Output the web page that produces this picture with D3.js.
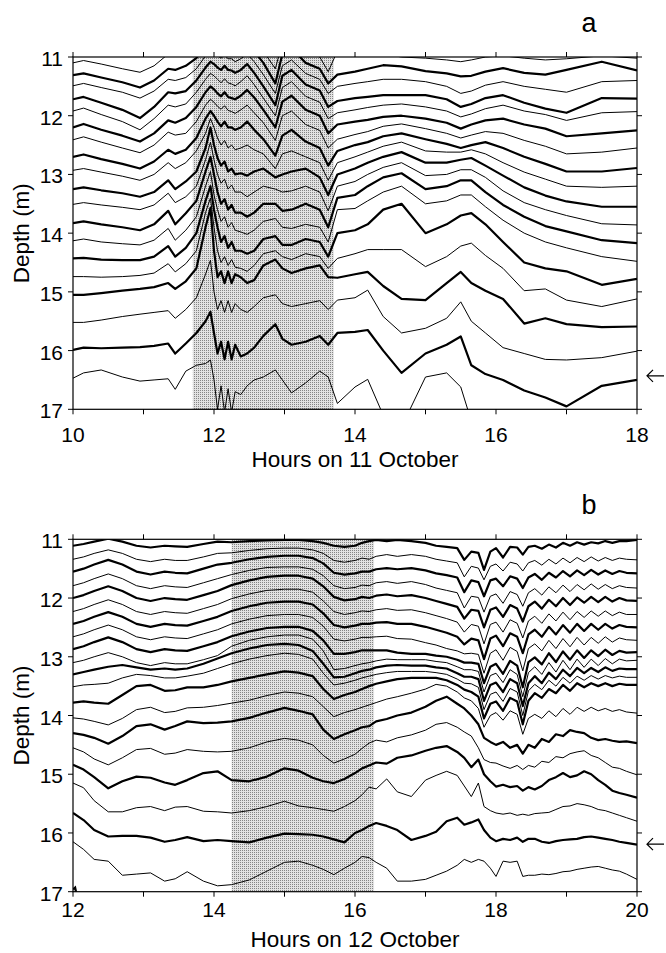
<!DOCTYPE html>
<html><head><meta charset="utf-8">
<script src="https://cdn.jsdelivr.net/npm/d3@7"></script>
<style>
html,body{margin:0;padding:0;background:#fff;}
svg{display:block;font-family:"Liberation Sans",Arial,Helvetica,sans-serif;}
</style></head><body>
<svg id="chart" width="666" height="953"></svg>
<script>
// ---------- DATA ----------
const depthTicks = [11, 12, 13, 14, 15, 16, 17];
const hourTicksA = [10, 11, 12, 13, 14, 15, 16, 17, 18];
const hourLabelsA = [10, 12, 14, 16, 18];
const hourTicksB = [12, 13, 14, 15, 16, 17, 18, 19, 20];
const hourLabelsB = [12, 14, 16, 18, 20];
const shadeA = [11.7, 13.7];
const shadeB = [14.25, 16.27];
const arrowDepthA = 16.43;
const arrowDepthB = 16.19;

const hoursA = [10.0,10.15,10.4,10.7,10.95,11.15,11.35,11.45,11.6,11.75,
  11.88,11.95,12.0,12.05,12.1,12.15,12.2,12.25,12.3,12.38,12.47,12.57,12.7,12.87,12.97,13.1,13.3,13.5,13.62,
  13.75,14.0,14.18,14.4,14.66,15.0,15.3,15.5,15.65,15.85,16.1,16.4,16.7,17.0,17.5,18.0];

const depthsA = [
 [11.10,11.06,11.12,11.20,11.26,11.15,10.95,10.98,10.95,10.88, 10.6,10.5,10.55,10.6,10.65,10.6,10.65,10.65,10.7,10.65,10.55,10.7,10.9,11.2,10.75,10.65,10.9,11.0,11.25, 10.9,10.95,10.98,10.95,11.0,11.02,11.05,11.08,11.05,11.0,10.98,11.02,11.05,11.03,10.98,11.02],
 [11.31,11.28,11.35,11.43,11.52,11.4,11.2,11.22,11.15,11.02, 10.8,10.7,10.75,10.8,10.85,10.8,10.85,10.85,10.9,10.85,10.75,10.9,11.1,11.45,10.95,10.85,11.1,11.2,11.45, 11.3,11.25,11.2,11.14,11.16,11.24,11.28,11.33,11.32,11.25,11.19,11.27,11.3,11.22,11.08,11.23],
 [11.49,11.45,11.52,11.6,11.7,11.58,11.38,11.4,11.35,11.2, 10.98,10.88,10.92,10.98,11.02,10.97,11.03,11.03,11.08,11.03,10.95,11.08,11.3,11.62,11.15,11.05,11.28,11.38,11.62, 11.5,11.45,11.42,11.38,11.38,11.42,11.5,11.62,11.58,11.48,11.42,11.5,11.55,11.6,11.42,11.4],
 [11.72,11.68,11.78,11.9,12.04,11.85,11.6,11.62,11.58,11.4, 11.18,11.08,11.12,11.18,11.22,11.15,11.22,11.23,11.27,11.22,11.12,11.27,11.5,11.82,11.32,11.22,11.47,11.57,11.85, 11.75,11.7,11.68,11.65,11.65,11.65,11.72,11.85,11.8,11.7,11.65,11.78,11.88,11.95,11.7,11.71],
 [11.92,11.87,11.98,12.1,12.24,12.05,11.82,11.85,11.8,11.6, 11.38,11.28,11.32,11.38,11.44,11.37,11.44,11.46,11.49,11.42,11.32,11.47,11.7,12.0,11.52,11.42,11.67,11.77,12.05, 11.95,11.9,11.86,11.82,11.8,11.85,11.92,12.02,11.97,11.88,11.82,11.92,11.98,12.08,11.95,11.93],
 [12.2,12.14,12.24,12.34,12.44,12.3,12.08,12.12,12.04,11.85, 11.6,11.5,11.55,11.62,11.67,11.6,11.68,11.7,11.72,11.66,11.56,11.69,11.9,12.2,11.76,11.66,11.9,12.0,12.3, 12.15,12.1,12.07,12.02,12.0,12.05,12.12,12.22,12.15,12.08,12.05,12.15,12.22,12.35,12.3,12.25],
 [12.41,12.36,12.45,12.55,12.63,12.5,12.28,12.33,12.3,12.1, 11.82,11.72,11.77,11.84,11.89,11.83,11.91,11.93,11.96,11.9,11.82,11.95,12.12,12.42,12.0,11.92,12.15,12.25,12.55, 12.4,12.32,12.27,12.18,12.14,12.22,12.3,12.38,12.33,12.27,12.3,12.42,12.52,12.65,12.62,12.55],
 [12.7,12.66,12.74,12.82,12.9,12.78,12.58,12.65,12.58,12.38, 12.05,11.92,12.0,12.1,12.18,12.1,12.2,12.2,12.24,12.2,12.1,12.24,12.4,12.68,12.34,12.24,12.44,12.55,12.85, 12.6,12.5,12.45,12.35,12.3,12.4,12.48,12.55,12.5,12.45,12.55,12.7,12.82,12.95,12.95,12.89],
 [12.93,12.9,12.96,13.03,13.1,13.0,12.8,12.9,12.8,12.6, 12.3,12.05,12.2,12.38,12.5,12.42,12.55,12.5,12.58,12.55,12.5,12.58,12.65,12.9,12.65,12.6,12.7,12.8,13.1, 12.8,12.7,12.62,12.52,12.45,12.6,12.62,12.62,12.58,12.65,12.8,12.96,13.08,13.2,13.22,13.2],
 [13.25,13.22,13.27,13.32,13.38,13.3,13.1,13.25,13.12,12.95, 12.55,12.2,12.5,12.72,12.85,12.78,12.95,12.9,13.0,12.98,13.02,12.95,12.9,13.05,13.0,12.95,12.9,13.05,13.35, 13.0,12.9,12.8,12.7,12.62,12.8,12.8,12.75,12.72,12.85,13.02,13.22,13.36,13.46,13.55,13.55],
 [13.51,13.48,13.52,13.56,13.6,13.52,13.32,13.48,13.38,13.2, 12.75,12.45,12.75,13.0,13.15,13.08,13.25,13.18,13.3,13.3,13.38,13.3,13.2,13.25,13.3,13.28,13.2,13.3,13.62, 13.2,13.12,13.0,12.88,12.8,13.02,13.0,12.92,12.92,13.05,13.28,13.48,13.6,13.7,13.84,13.86],
 [13.83,13.8,13.85,13.9,13.95,13.85,13.62,13.85,13.66,13.45, 12.95,12.7,13.0,13.3,13.5,13.42,13.6,13.52,13.65,13.65,13.72,13.65,13.5,13.5,13.62,13.6,13.5,13.6,13.9, 13.4,13.35,13.2,13.05,12.98,13.25,13.2,13.1,13.1,13.3,13.52,13.72,13.88,13.97,14.12,14.17],
 [14.13,14.1,14.15,14.18,14.2,14.12,13.92,14.12,13.95,13.72, 13.2,12.95,13.35,13.6,13.8,13.72,13.9,13.82,13.95,13.98,14.02,13.95,13.8,13.75,13.9,13.92,13.85,13.9,14.15, 13.6,13.58,13.45,13.3,13.2,13.5,13.45,13.35,13.35,13.55,13.78,14.0,14.15,14.25,14.4,14.48],
 [14.43,14.42,14.45,14.46,14.46,14.4,14.22,14.4,14.25,14.0, 13.45,13.2,13.6,13.9,14.15,14.05,14.25,14.15,14.3,14.3,14.35,14.3,14.1,14.05,14.2,14.2,14.1,14.15,14.4, 14.0,13.95,13.85,13.6,13.5,14.0,13.85,13.7,13.66,13.85,14.15,14.5,14.6,14.65,14.88,14.78],
 [14.74,14.74,14.75,14.74,14.72,14.68,14.52,14.66,14.52,14.3, 13.65,13.4,13.9,14.3,14.5,14.4,14.55,14.45,14.58,14.6,14.65,14.55,14.35,14.3,14.4,14.45,14.35,14.4,14.6, 14.43,14.35,14.28,14.28,14.28,14.57,14.4,14.22,14.17,14.38,14.6,14.98,14.95,15.14,15.25,15.12],
 [15.05,15.05,15.02,14.98,14.95,14.92,14.85,14.95,14.82,14.6, 13.9,13.57,14.3,14.75,14.65,14.85,14.65,14.85,14.7,14.75,14.85,14.8,14.55,14.45,14.6,14.68,14.6,14.55,14.75, 14.76,14.7,14.66,14.9,15.12,15.14,14.85,14.66,14.85,14.98,15.12,15.54,15.45,15.55,15.6,15.59],
 [15.52,15.52,15.48,15.42,15.38,15.35,15.32,15.45,15.3,15.1, 14.7,14.46,15.0,15.3,15.15,15.35,15.15,15.35,15.2,15.3,15.35,15.25,15.1,15.05,15.2,15.25,15.2,15.15,15.3, 15.14,15.1,14.97,15.42,15.7,15.62,15.45,15.17,15.5,15.7,15.95,16.05,16.15,16.16,16.12,16.01],
 [15.99,15.95,15.96,15.95,15.94,15.92,15.88,16.05,15.88,15.7, 15.5,15.34,15.7,16.05,15.85,16.15,15.85,16.15,15.9,16.1,16.05,15.95,15.75,15.55,15.8,15.9,15.85,15.75,15.9, 15.7,15.68,15.65,16.0,16.38,16.05,15.9,15.76,16.25,16.4,16.5,16.68,16.8,16.95,16.6,16.5],
 [16.47,16.38,16.33,16.45,16.52,16.5,16.48,16.66,16.35,16.25, 16.22,16.16,16.5,17.0,16.6,17.05,16.65,17.05,16.7,16.75,16.6,16.5,16.45,16.33,16.5,16.72,16.55,16.35,16.45, 16.9,16.62,16.49,17.1,17.3,16.45,16.38,16.62,17.2,17.5,17.6,17.7,17.8,17.9,17.8,17.7]
];

const hoursB = [12.0,12.15,12.3,12.5,12.7,12.9,13.1,13.3,13.45,13.62,13.85,14.05,
  14.25,14.5,14.75,15.0,15.2,15.4,15.55,
  15.7,15.85,16.0,16.1,16.2,16.3,16.45,16.6,16.8,17.0,17.15,17.3,17.45,
  17.55,17.65,17.75,17.83,17.92,18.0,18.1,18.2,18.3,18.38,18.46,18.55,18.65,18.75,18.85,18.95,19.05,19.15,19.25,19.35,19.45,19.55,19.65,19.75,19.85,20.0];

const depthsB = [
 [11.11,11.08,11.04,10.99,11.04,11.11,11.14,11.11,11.12,11.13,11.08,11.04, 11.05,11.03,11.02,11.01,11.01,11.03,11.06, 11.11,11.13,11.11,11.06,11.03,11.01,11.03,11.01,11.03,11.06,11.11,11.13,11.15, 11.35,11.21,11.23,11.52,11.21,11.15,11.31,11.13,11.14,11.26,11.13,11.11,11.16,11.09,11.14,11.06,11.11,11.05,11.09,11.05,11.07,11.03,11.06,11.03,11.03,11.01],
 [11.34,11.30,11.24,11.18,11.24,11.34,11.38,11.34,11.36,11.36,11.30,11.24, 11.23,11.19,11.16,11.15,11.15,11.18,11.24, 11.36,11.39,11.36,11.32,11.34,11.29,11.26,11.29,11.26,11.29,11.34,11.37,11.40, 11.64,11.46,11.49,11.69,11.46,11.42,11.54,11.39,11.42,11.54,11.40,11.36,11.44,11.34,11.42,11.32,11.40,11.31,11.38,11.30,11.37,11.31,11.36,11.32,11.34,11.35],
 [11.55,11.50,11.43,11.35,11.43,11.55,11.60,11.55,11.57,11.58,11.50,11.43, 11.40,11.34,11.30,11.28,11.28,11.32,11.41, 11.57,11.60,11.58,11.55,11.55,11.51,11.49,11.51,11.49,11.53,11.58,11.61,11.65, 11.90,11.70,11.73,11.97,11.70,11.67,11.80,11.63,11.67,11.83,11.65,11.59,11.69,11.57,11.65,11.54,11.63,11.53,11.61,11.52,11.60,11.53,11.59,11.54,11.57,11.58],
 [11.79,11.74,11.67,11.59,11.67,11.79,11.84,11.79,11.81,11.82,11.74,11.67, 11.60,11.53,11.48,11.47,11.47,11.51,11.62, 11.79,11.84,11.82,11.78,11.79,11.74,11.72,11.75,11.72,11.77,11.83,11.87,11.91, 12.17,11.97,11.99,12.24,11.97,11.93,12.09,11.89,11.94,12.14,11.91,11.84,11.95,11.81,11.91,11.78,11.89,11.77,11.86,11.76,11.85,11.77,11.84,11.79,11.82,11.83],
 [12.0,11.95,11.88,11.80,11.88,12.0,12.05,12.0,12.02,12.03,11.95,11.88, 11.78,11.70,11.64,11.62,11.62,11.67,11.80, 11.98,12.04,12.02,11.98,12.0,11.96,11.94,11.97,11.95,12.0,12.05,12.10,12.15, 12.35,12.20,12.22,12.50,12.20,12.16,12.32,12.12,12.18,12.40,12.14,12.06,12.18,12.03,12.14,12.00,12.12,11.99,12.08,11.98,12.07,11.98,12.06,12.00,12.04,12.05],
 [12.23,12.18,12.11,12.03,12.11,12.23,12.28,12.23,12.25,12.26,12.18,12.11, 12.01,11.93,11.87,11.85,11.85,11.90,12.05, 12.23,12.28,12.25,12.22,12.23,12.20,12.18,12.21,12.20,12.25,12.30,12.35,12.41, 12.58,12.45,12.48,12.78,12.45,12.41,12.58,12.37,12.43,12.68,12.39,12.31,12.43,12.27,12.39,12.24,12.37,12.23,12.33,12.22,12.31,12.22,12.30,12.24,12.28,12.28],
 [12.44,12.39,12.32,12.24,12.32,12.44,12.49,12.44,12.46,12.47,12.39,12.32, 12.22,12.14,12.08,12.06,12.06,12.11,12.26, 12.46,12.50,12.47,12.44,12.44,12.42,12.41,12.44,12.44,12.49,12.54,12.59,12.66, 12.79,12.69,12.72,13.04,12.69,12.64,12.82,12.60,12.66,12.94,12.62,12.54,12.66,12.49,12.62,12.46,12.59,12.44,12.56,12.44,12.54,12.44,12.52,12.46,12.49,12.50],
 [12.66,12.61,12.54,12.46,12.54,12.66,12.71,12.66,12.68,12.69,12.61,12.54, 12.44,12.36,12.30,12.28,12.28,12.33,12.48, 12.70,12.73,12.70,12.67,12.67,12.66,12.65,12.69,12.70,12.76,12.80,12.86,12.90, 12.95,12.94,12.96,13.28,12.94,12.88,13.06,12.84,12.91,13.24,12.86,12.78,12.90,12.72,12.86,12.69,12.83,12.67,12.80,12.67,12.77,12.66,12.75,12.68,12.71,12.72],
 [12.87,12.82,12.75,12.67,12.75,12.87,12.92,12.87,12.89,12.90,12.82,12.75, 12.65,12.57,12.51,12.49,12.49,12.56,12.72, 12.95,12.95,12.92,12.89,12.89,12.89,12.89,12.93,12.95,12.95,12.98,13.0,13.05, 13.1,13.1,13.12,13.45,13.17,13.12,13.29,13.07,13.15,13.52,13.09,13.01,13.13, 12.94,13.09,12.91,13.05,12.89,13.02,12.89,12.99,12.88,12.97,12.90,12.93,12.92],
 [13.10,13.06,13.00,12.93,13.00,13.10,13.15,13.10,13.12,13.12,13.05,12.98, 12.82,12.72,12.66,12.63,12.63,12.70,12.90, 13.22,13.2,13.15,13.12,13.1,13.07,13.04,13.05,13.05,13.05,13.08,13.1,13.17, 13.22,13.22,13.25,13.6,13.32,13.28,13.44,13.22,13.3,13.68,13.27,13.17,13.3, 13.10,13.26,13.06,13.22,13.04,13.18,13.04,13.15,13.03,13.12,13.04,13.07,13.06],
 [13.30,13.26,13.22,13.17,13.14,13.18,13.22,13.2,13.22,13.2,13.12,13.03, 12.94,12.86,12.8,12.78,12.8,12.9,13.12, 13.35,13.34,13.28,13.24,13.22,13.18,13.15,13.14,13.15,13.15,13.18,13.2,13.28, 13.34,13.34,13.38,13.75,13.48,13.44,13.6,13.38,13.45,13.84,13.45,13.33,13.45, 13.27,13.38,13.22,13.33,13.19,13.28,13.19,13.26,13.18,13.24,13.2,13.21,13.21],
 [13.51,13.48,13.47,13.45,13.36,13.3,13.32,13.36,13.36,13.33,13.28,13.2, 13.12,13.04,12.98,12.94,12.96,13.04,13.28, 13.48,13.45,13.4,13.36,13.33,13.3,13.27,13.25,13.25,13.25,13.27,13.3,13.38, 13.45,13.46,13.52,13.9,13.64,13.6,13.76,13.54,13.6,14.0,13.58,13.47,13.56, 13.4,13.5,13.35,13.45,13.33,13.4,13.32,13.38,13.32,13.36,13.33,13.35,13.35],
 [13.78,13.76,13.78,13.8,13.65,13.5,13.48,13.58,13.57,13.52,13.52,13.48, 13.42,13.36,13.3,13.25,13.27,13.33,13.55, 13.72,13.65,13.6,13.55,13.5,13.46,13.42,13.38,13.36,13.36,13.36,13.4,13.48, 13.56,13.6,13.68,14.05,13.8,13.76,13.92,13.7,13.76,14.15,13.75,13.62,13.7, 13.55,13.62,13.48,13.58,13.45,13.52,13.45,13.5,13.45,13.5,13.46,13.48,13.48],
 [14.04,14.06,14.1,14.16,14.05,13.9,13.86,13.95,13.93,13.87,13.86,13.83, 13.79,13.74,13.66,13.6,13.62,13.68,13.85, 14.02,13.95,13.9,13.86,13.82,13.78,13.72,13.68,13.62,13.55,13.47,13.5,13.6, 13.7,13.75,13.88,14.2,14.0,13.95,14.08,13.92,13.98,14.32,14.05,13.98,14.05, 13.92,14.02,13.88,13.98,13.86,13.93,13.86,13.92,13.88,13.93,13.9,13.94,13.96],
 [14.30,14.33,14.38,14.48,14.35,14.18,14.15,14.24,14.18,14.10,14.13,14.12, 14.10,14.04,13.95,13.87,13.92,13.98,14.24, 14.40,14.32,14.25,14.2,14.18,14.1,14.06,14.0,13.95,13.85,13.75,13.68,13.8, 13.88,14.0,14.15,14.38,14.45,14.5,14.45,14.55,14.5,14.65,14.5,14.55,14.4,14.45,14.32,14.35,14.25,14.28,14.3,14.38,14.42,14.4,14.43,14.45,14.44,14.47],
 [14.55,14.62,14.74,14.84,14.72,14.58,14.56,14.66,14.64,14.58,14.61,14.62, 14.61,14.55,14.45,14.39,14.42,14.5,14.68, 14.81,14.74,14.66,14.56,14.47,14.42,14.45,14.38,14.33,14.25,14.15,14.12,14.2, 14.28,14.35,14.55,14.75,14.8,14.81,14.86,14.9,14.85,14.92,14.85,14.88,14.78,14.8,14.7,14.72,14.65,14.62,14.6,14.68,14.72,14.8,14.88,14.9,14.95,15.01],
 [14.84,14.92,15.05,15.24,15.12,15.04,15.06,15.14,15.18,15.1,14.98,14.95, 15.1,15.12,15.04,14.9,14.94,15.06,15.12, 15.15,15.08,14.98,14.9,14.85,14.8,14.82,14.72,14.68,14.6,14.55,14.52,14.62, 14.72,14.88,14.75,15.0,15.12,15.21,15.18,15.22,15.2,15.28,15.22,15.26,15.2,15.1,15.05,14.98,15.05,15.02,14.95,15.0,15.1,15.18,15.28,15.32,15.35,15.4],
 [15.15,15.23,15.45,15.64,15.64,15.57,15.55,15.62,15.56,15.55,15.63,15.64, 15.66,15.62,15.55,15.46,15.54,15.57,15.6, 15.63,15.55,15.45,15.35,15.22,15.25,15.08,15.3,15.38,15.1,15.02,14.95,15.02, 15.2,15.38,15.15,15.55,15.62,15.66,15.68,15.66,15.7,15.68,15.7,15.67,15.66,15.65,15.6,15.55,15.54,15.5,15.52,15.55,15.6,15.62,15.66,15.7,15.74,15.8],
 [15.66,15.78,15.95,16.06,16.05,16.05,16.08,16.15,16.12,16.07,16.14,16.12, 16.14,16.16,16.08,16.01,16.02,16.03,16.06, 16.11,16.16,16.0,15.95,15.88,15.83,15.88,15.95,16.12,16.05,15.98,15.8,15.74, 15.86,15.82,15.77,15.95,16.08,16.14,16.1,16.12,16.08,16.15,16.1,16.1,16.15,16.17,16.14,16.12,16.11,16.1,16.07,16.06,16.08,16.1,16.12,16.15,16.17,16.2],
 [16.15,16.28,16.45,16.48,16.72,16.7,16.68,16.82,16.78,16.66,16.82,16.9, 16.88,16.8,16.65,16.5,16.48,16.55,16.62, 16.71,16.6,16.5,16.4,16.42,16.5,16.6,16.82,16.82,16.79,16.72,16.65,16.55, 16.45,16.5,16.45,16.48,16.6,16.74,16.48,16.5,16.48,16.74,16.72,16.72,16.7,16.71,16.69,16.66,16.65,16.62,16.6,16.58,16.57,16.6,16.63,16.65,16.7,16.79]
];
// short trace peeking in at the lower-left corner of panel b
const cornerHoursB = [12.0, 12.03, 12.06];
const cornerDepthsB = [16.96, 16.93, 17.1];

// ---------- DRAWING ----------
const svg = d3.select('#chart');
const left = 73, right = 637;
const defs = svg.append('defs');
const pat = defs.append('pattern').attr('id', 'stipple').attr('width', 2).attr('height', 2)
  .attr('patternUnits', 'userSpaceOnUse');
pat.append('rect').attr('width', 2).attr('height', 2).attr('fill', '#e2e2e2');
pat.append('rect').attr('width', 1).attr('height', 1).attr('fill', '#858585');

function drawPanel(cfg) {
  const x = d3.scaleLinear().domain(cfg.xDomain).range([left, right]);
  const y = d3.scaleLinear().domain([11, 17]).range([cfg.top, cfg.bottom]);
  const g = svg.append('g');
  const clipId = 'clip' + cfg.id;
  defs.append('clipPath').attr('id', clipId).append('rect')
    .attr('x', left).attr('y', cfg.top).attr('width', right - left).attr('height', cfg.bottom - cfg.top);

  g.append('rect').attr('x', x(cfg.shade[0])).attr('y', cfg.top)
    .attr('width', x(cfg.shade[1]) - x(cfg.shade[0])).attr('height', cfg.bottom - cfg.top)
    .attr('fill', 'url(#stipple)');

  const line = d3.line().x(d => x(d[0])).y(d => y(d[1])).defined(d => d[1] != null && !isNaN(d[1]));
  const lg = g.append('g').attr('clip-path', `url(#${clipId})`);
  cfg.depths.forEach((arr, i) => {
    const pts = cfg.hours.map((h, k) => [h, arr[k]]);
    lg.append('path').attr('d', line(pts)).attr('fill', 'none').attr('stroke', '#000')
      .attr('stroke-width', cfg.heavy(i) ? 2.2 : 1.0).attr('stroke-linejoin', 'round');
  });
  if (cfg.extraH) {
    lg.append('path').attr('d', line(cfg.extraH.map((h, k) => [h, cfg.extraD[k]])))
      .attr('fill', 'none').attr('stroke', '#000').attr('stroke-width', 2.2);
  }

  g.append('rect').attr('x', left).attr('y', cfg.top).attr('width', right - left)
    .attr('height', cfg.bottom - cfg.top).attr('fill', 'none').attr('stroke', '#000').attr('stroke-width', 1.2);

  const tl = 5;
  cfg.xTicks.forEach(t => {
    g.append('line').attr('x1', x(t)).attr('x2', x(t)).attr('y1', cfg.bottom).attr('y2', cfg.bottom + tl)
      .attr('stroke', '#000').attr('stroke-width', 1);
    g.append('line').attr('x1', x(t)).attr('x2', x(t)).attr('y1', cfg.top).attr('y2', cfg.top - tl)
      .attr('stroke', '#000').attr('stroke-width', 1);
  });
  cfg.xLabels.forEach(t => {
    g.append('text').attr('x', x(t)).attr('y', cfg.bottom + cfg.labelGap).attr('text-anchor', 'middle')
      .attr('font-size', 21).text(t);
  });
  depthTicks.forEach(t => {
    g.append('line').attr('x1', left - tl).attr('x2', left).attr('y1', y(t)).attr('y2', y(t))
      .attr('stroke', '#000').attr('stroke-width', 1);
    g.append('line').attr('x1', right).attr('x2', right + tl).attr('y1', y(t)).attr('y2', y(t))
      .attr('stroke', '#000').attr('stroke-width', 1);
    g.append('text').attr('x', left - 10).attr('y', y(t)).attr('dy', '0.43em').attr('text-anchor', 'end')
      .attr('font-size', 21).text(t);
  });
  g.append('text').attr('x', (left + right) / 2).attr('y', cfg.bottom + cfg.titleGap)
    .attr('text-anchor', 'middle').attr('font-size', 22.5).text(cfg.title);
  g.append('text').attr('transform', `translate(29,${(cfg.top + cfg.bottom) / 2}) rotate(-90)`)
    .attr('text-anchor', 'middle').attr('font-size', 22.5).text('Depth (m)');
  g.append('text').attr('x', 589).attr('y', cfg.top - 25).attr('text-anchor', 'middle')
    .attr('font-size', 27).text(cfg.letter);

  const ay = y(cfg.arrowDepth);
  g.append('path').attr('d', `M${right + 27},${ay}H${right + 10}M${right + 16},${ay - 6}L${right + 10},${ay}L${right + 16},${ay + 6}`)
    .attr('fill', 'none').attr('stroke', '#000').attr('stroke-width', 1.2);
}

drawPanel({id: 'A', hours: hoursA, depths: depthsA, xDomain: [10, 18], top: 57, bottom: 409.3,
  shade: shadeA, xTicks: hourTicksA, xLabels: hourLabelsA, labelGap: 33, titleGap: 57.5,
  title: 'Hours on 11 October', letter: 'a', arrowDepth: arrowDepthA, heavy: i => i % 2 === 1});
drawPanel({id: 'B', hours: hoursB, depths: depthsB, xDomain: [12, 20], top: 539.3, bottom: 891.7,
  shade: shadeB, xTicks: hourTicksB, xLabels: hourLabelsB, labelGap: 25, titleGap: 55.5,
  title: 'Hours on 12 October', letter: 'b', arrowDepth: arrowDepthB, heavy: i => i % 2 === 0,
  extraH: cornerHoursB, extraD: cornerDepthsB});
</script>
</body></html>
